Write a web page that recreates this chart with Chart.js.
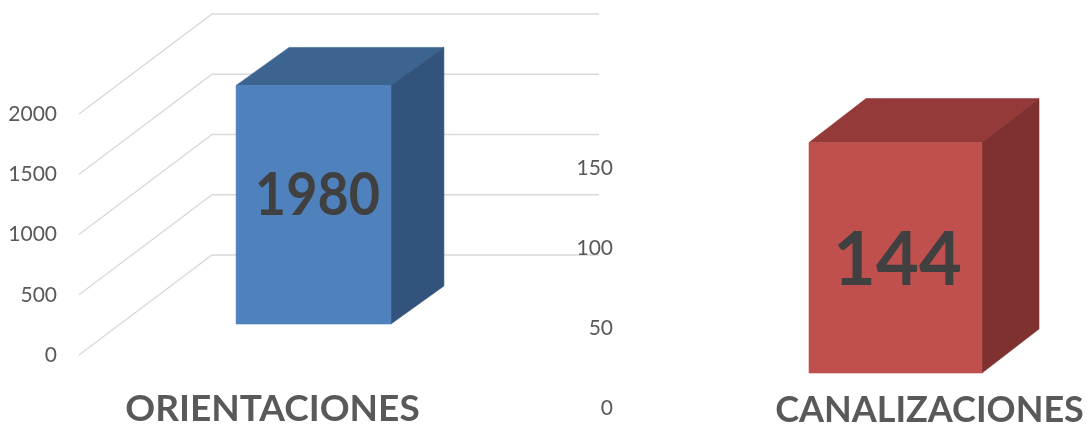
<!DOCTYPE html>
<html>
<head>
<meta charset="utf-8">
<script src="https://cdn.jsdelivr.net/npm/chart.js@4.4.1/dist/chart.umd.min.js"></script>
<style>
  html, body { margin: 0; padding: 0; background: #ffffff; overflow: hidden; }
  #wrap { position: relative; width: 1087px; height: 430px; }
  canvas { position: absolute; top: 0; }
  #c1 { left: 0; }
  #c2 { left: 560px; }
</style>
</head>
<body>
<div id="wrap">
  <canvas id="c1" width="600" height="430"></canvas>
  <canvas id="c2" width="527" height="430"></canvas>
</div>
<script>
// ---- data ----
const leftCategories = ['ORIENTACIONES'];
const leftValues = [1980];
const leftTicks = [0, 500, 1000, 1500, 2000];

const rightCategories = ['CANALIZACIONES'];
const rightValues = [144];
const rightTicks = [0, 50, 100, 150];

// ---- helpers ----
function poly(ctx, pts, color) {
  ctx.beginPath();
  ctx.moveTo(pts[0][0], pts[0][1]);
  for (let i = 1; i < pts.length; i++) ctx.lineTo(pts[i][0], pts[i][1]);
  ctx.closePath();
  ctx.fillStyle = color;
  ctx.fill();
  ctx.strokeStyle = color;
  ctx.lineWidth = 0.6;
  ctx.stroke();
}

const box3d = {
  id: 'box3d',
  beforeDatasetsDraw(chart, args, o) {
    if (!o.grid) return;
    const ctx = chart.ctx, a = chart.chartArea, ys = chart.scales.y;
    ctx.save();
    ctx.strokeStyle = o.grid.color;
    ctx.lineWidth = o.grid.width;
    ys.ticks.forEach(t => {
      const y = ys.getPixelForValue(t.value);
      ctx.beginPath();
      ctx.moveTo(a.left, y);
      ctx.lineTo(a.left + o.grid.dx, y + o.grid.dy);
      ctx.lineTo(a.right + o.grid.dx, y + o.grid.dy);
      ctx.stroke();
    });
    ctx.restore();
  },
  afterDatasetsDraw(chart, args, o) {
    const ctx = chart.ctx;
    const ds = chart.data.datasets[0];
    chart.getDatasetMeta(0).data.forEach((bar, i) => {
      const p = bar.getProps(['x', 'y', 'base', 'width'], true);
      const l = p.x - p.width / 2 + o.front[0];
      const r = p.x + p.width / 2 + o.front[0];
      const t = p.y + o.front[1];
      const b = p.base + o.front[1];
      const dx = o.depth[0], dy = o.depth[1];
      ctx.save();
      poly(ctx, [[l, t], [l + dx, t + dy], [r + dx, t + dy], [r, t]], o.top);
      poly(ctx, [[r, t], [r + dx, t + dy], [r + dx, b + dy], [r, b]], o.side);
      poly(ctx, [[l, t], [r, t], [r, b], [l, b]], o.face);
      ctx.fillStyle = o.label.color;
      ctx.font = o.label.font;
      ctx.textAlign = 'center';
      ctx.textBaseline = 'middle';
      ctx.translate((l + r) / 2 + o.label.dx, (t + b) / 2 + o.label.dy);
      ctx.scale(o.label.sx, 1);
      ctx.fillText(String(ds.data[i]), 0, 0);
      ctx.restore();
    });
  }
};

const tickColor = '#595959';

function makeChart(canvasId, cats, vals, ticks, cfg) {
  return new Chart(document.getElementById(canvasId), {
    type: 'bar',
    data: {
      labels: cats,
      datasets: [{
        data: vals,
        backgroundColor: 'rgba(0,0,0,0)',
        borderWidth: 0,
        barPercentage: cfg.barPercentage,
        categoryPercentage: 1
      }]
    },
    options: {
      responsive: false,
      animation: false,
      devicePixelRatio: 1,
      layout: { padding: cfg.padding },
      plugins: {
        legend: { display: false },
        tooltip: { enabled: false },
        box3d: cfg.box
      },
      scales: {
        x: {
          grid: { display: false, drawTicks: false },
          border: { display: false },
          ticks: {
            color: tickColor,
            font: { family: 'Lato', weight: 'bold', size: cfg.xFontSize },
            padding: cfg.xPad,
            labelOffset: cfg.xLabelOffset,
            maxRotation: 0,
            minRotation: 0,
            autoSkip: false
          },
          afterFit(s) {
            s.height = cfg.xHeight;
            s.paddingLeft = 0; s.paddingRight = 0;
          }
        },
        y: {
          min: 0,
          max: ticks[ticks.length - 1],
          grid: { display: false, drawTicks: false },
          border: { display: false },
          ticks: {
            color: tickColor,
            font: { family: 'Lato', size: 21 },
            padding: cfg.yPad,
            labelOffset: cfg.yLabelOffset,
            callback: v => String(v)
          },
          afterBuildTicks(s) { s.ticks = ticks.map(v => ({ value: v })); },
          afterFit(s) {
            s.width = cfg.yWidth;
            s.paddingTop = 0; s.paddingBottom = 0;
          }
        }
      }
    },
    plugins: [box3d]
  });
}

makeChart('c1', leftCategories, leftValues, leftTicks, {
  barPercentage: 0.4,
  padding: { top: 114, right: 134, left: 0, bottom: 0 },
  xHeight: 75, xPad: 32, xLabelOffset: 0, xFontSize: 37,
  yWidth: 79, yPad: 22, yLabelOffset: 0,
  box: {
    front: [41, -31], depth: [53, -38],
    face: '#4F81BD', top: '#3C6491', side: '#32537B',
    grid: { color: '#D9D9D9', width: 1.4, dx: 133, dy: -100 },
    label: { font: 'bold 60px Lato', color: '#404040', dx: 4, dy: -9, sx: 0.9 }
  }
});

makeChart('c2', rightCategories, rightValues, rightTicks, {
  barPercentage: 0.454,
  padding: { top: 133, right: 1, left: 0, bottom: 0 },
  xHeight: 57, xPad: 16, xLabelOffset: 34, xFontSize: 36,
  yWidth: 145, yPad: 92, yLabelOffset: 35,
  box: {
    front: [0, 0], depth: [57, -44],
    face: '#C0504D', top: '#943B39', side: '#7F3130',
    grid: null,
    label: { font: 'bold 74px Lato', color: '#404040', dx: 2, dy: 3, sx: 1 }
  }
});
</script>
</body>
</html>
